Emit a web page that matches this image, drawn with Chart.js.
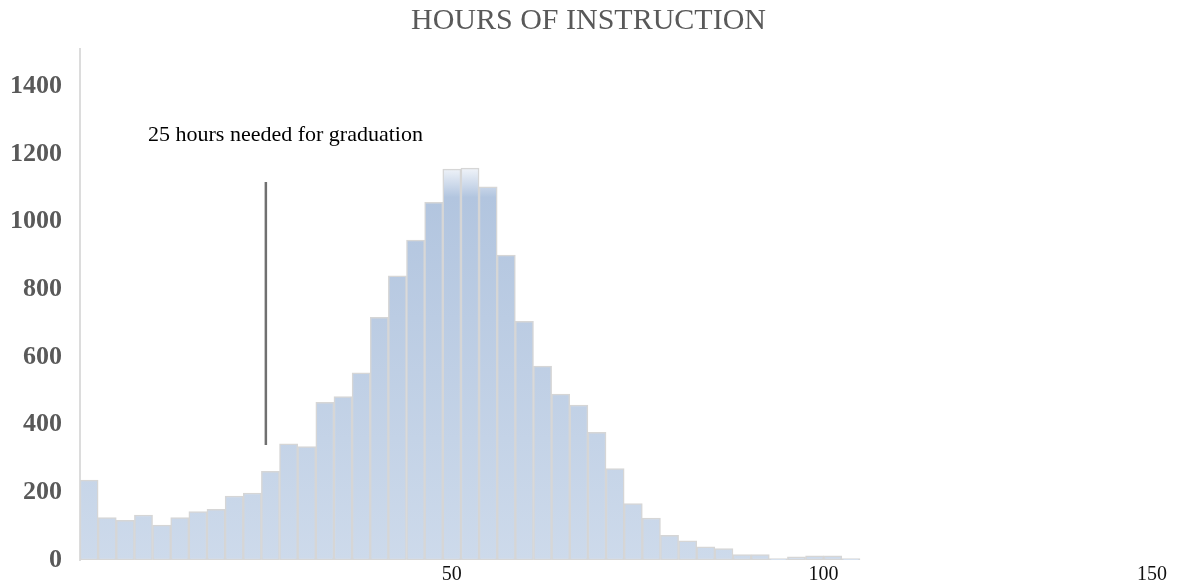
<!DOCTYPE html>
<html>
<head>
<meta charset="utf-8">
<script src="https://cdn.jsdelivr.net/npm/chart.js@4/dist/chart.umd.min.js"></script>
<style>
  html, body { margin: 0; padding: 0; background: #ffffff; overflow: hidden; }
  #wrap { width: 1177px; height: 586px; }
</style>
</head>
<body>
<div id="wrap"><canvas id="c" width="1177" height="586"></canvas></div>
<script>
// ---- data ----
const chartTitle = "HOURS OF INSTRUCTION";
const binWidth = 2.44;
const binStarts = [0, 2.44, 4.88, 7.32, 9.76, 12.2, 14.64, 17.08, 19.52, 21.96,
  24.4, 26.84, 29.28, 31.72, 34.16, 36.6, 39.04, 41.48, 43.92, 46.36,
  48.8, 51.24, 53.68, 56.12, 58.56, 61, 63.44, 65.88, 68.32, 70.76,
  73.2, 75.64, 78.08, 80.52, 82.96, 85.4, 87.84, 90.28, 92.72, 95.16,
  97.6, 100.04, 102.48];
const counts = [236, 125, 117, 133, 103, 125, 143, 150, 189, 198,
  262, 343, 335, 466, 483, 553, 717, 840, 945, 1057,
  1155, 1158, 1103, 901, 705, 573, 490, 458, 377, 270,
  167, 124, 73, 57, 39, 34, 16, 16, 4, 9,
  12, 12, 4];
const xTickValues = [50, 100, 150];
const xTickLabels = ["50", "100", "150"];
const yTickValues = [0, 200, 400, 600, 800, 1000, 1200, 1400];
const yTickLabels = ["0", "200", "400", "600", "800", "1000", "1200", "1400"];
const markerHours = 25;
const markerRange = [340, 1117];
const noteText = "25 hours needed for graduation";
const notePos = { x: 9.15, y: 1256 };

// ---- chart ----
function barGradient(ctx) {
  const chart = ctx.chart;
  const area = chart.chartArea;
  if (!area) return '#bccde3';
  const g = chart.ctx.createLinearGradient(0, area.top, 0, area.bottom);
  g.addColorStop(0, '#f5f7fb');
  g.addColorStop(0.235, '#eef2f8');
  g.addColorStop(0.29, '#b2c5df');
  g.addColorStop(1, '#cddaeb');
  return g;
}

const notePlugin = {
  id: 'note',
  afterDatasetsDraw(chart) {
    const c = chart.ctx;
    const xs = chart.scales.x, ys = chart.scales.y;
    c.save();
    c.font = '22px "Liberation Serif", "Times New Roman", serif';
    c.fillStyle = '#000000';
    c.textAlign = 'left';
    c.textBaseline = 'middle';
    c.fillText(noteText, xs.getPixelForValue(notePos.x), ys.getPixelForValue(notePos.y));
    c.restore();
  }
};

new Chart(document.getElementById('c'), {
  data: {
    datasets: [
      {
        type: 'bar',
        data: binStarts.map((s, i) => ({ x: s + binWidth / 2, y: counts[i] })),
        backgroundColor: barGradient,
        borderColor: '#d6d6d6',
        borderWidth: 1.5,
        borderSkipped: false,
        barPercentage: 1,
        categoryPercentage: 1,
        order: 2
      },
      {
        type: 'line',
        data: markerRange.map(v => ({ x: markerHours, y: v })),
        borderColor: '#707070',
        borderWidth: 2.5,
        pointRadius: 0,
        fill: false,
        order: 1
      }
    ]
  },
  options: {
    responsive: false,
    animation: false,
    devicePixelRatio: 1,
    layout: { padding: { left: 0, right: 0, top: 0, bottom: 0 } },
    plugins: {
      legend: { display: false },
      tooltip: { enabled: false },
      title: {
        display: true,
        text: chartTitle,
        color: '#595959',
        font: { family: '"Liberation Serif", "Times New Roman", serif', size: 30, weight: 'normal', lineHeight: 1.2 },
        padding: { top: 3, bottom: 10 }
      }
    },
    scales: {
      x: {
        type: 'linear',
        min: 0,
        max: 144.2,
        offset: false,
        bounds: 'ticks',
        grid: { display: false, drawTicks: false, offset: false },
        border: { display: false },
        afterBuildTicks(scale) {
          scale.ticks = xTickValues.map(v => ({ value: Math.min(v, scale.max) }));
        },
        afterFit(scale) {
          scale.height = 26;
          scale.paddingLeft = 0;
          scale.paddingRight = 25;
          scale.paddingTop = 0;
          scale.paddingBottom = 0;
        },
        ticks: {
          autoSkip: false,
          maxRotation: 0,
          padding: 4,
          color: '#111111',
          font: { family: '"Liberation Serif", "Times New Roman", serif', size: 20, lineHeight: 1.1 },
          callback: (v, i) => xTickLabels[i]
        }
      },
      y: {
        type: 'linear',
        min: 0,
        max: 1510,
        grid: { display: false, drawTicks: false },
        border: { display: true, color: '#dcdcdc', width: 2 },
        afterFit(scale) {
          scale.width = 80;
          scale.paddingTop = 0;
          scale.paddingBottom = 0;
          scale.paddingLeft = 0;
          scale.paddingRight = 0;
        },
        afterBuildTicks(scale) {
          scale.ticks = yTickValues.map(v => ({ value: v }));
        },
        ticks: {
          padding: 18,
          color: '#595959',
          font: { family: '"Liberation Serif", "Times New Roman", serif', size: 26, weight: 'bold' },
          callback: (v, i) => yTickLabels[i]
        }
      }
    }
  },
  plugins: [notePlugin]
});
</script>
</body>
</html>
